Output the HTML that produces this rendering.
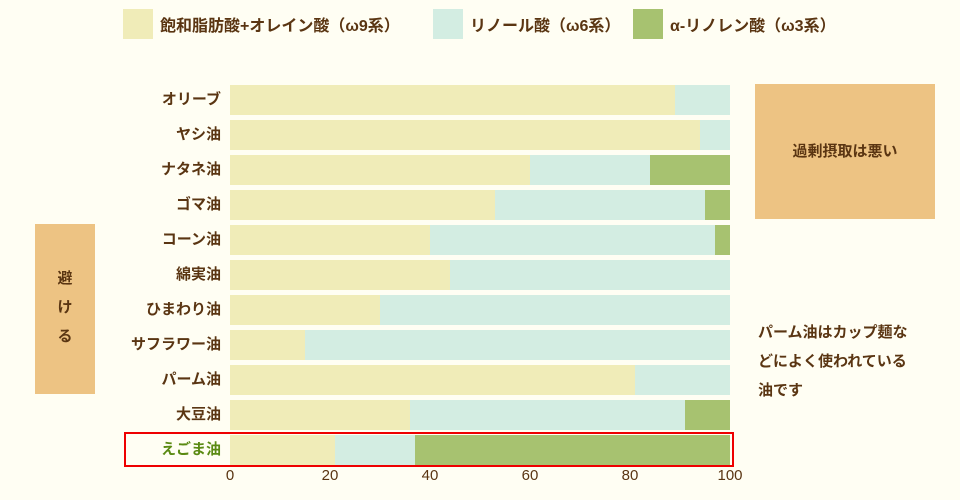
<!DOCTYPE html>
<html><head><meta charset="utf-8"><style>
body{margin:0;width:960px;height:500px;background:#fffef3;position:relative;overflow:hidden;font-family:"Liberation Sans","Noto Sans CJK JP",sans-serif;color:#5a3512;font-weight:bold}
.a{position:absolute}
.lab{position:absolute;right:739px;font-size:15px;line-height:30px;white-space:nowrap}
.t{position:absolute;top:467px;font-size:15px;font-weight:normal;width:40px;text-align:center}
</style></head><body>
<div class="a" style="left:123px;top:9px;width:30px;height:30px;background:#f0ecb8"></div>
<div class="a" style="left:160px;top:12px;font-size:16px">飽和脂肪酸+オレイン酸（ω9系）</div>
<div class="a" style="left:433px;top:9px;width:30px;height:30px;background:#d3ede2"></div>
<div class="a" style="left:470px;top:12px;font-size:16px">リノール酸（ω6系）</div>
<div class="a" style="left:633px;top:9px;width:30px;height:30px;background:#a7c270"></div>
<div class="a" style="left:670px;top:12px;font-size:16px">α-リノレン酸（ω3系）</div>

<div class="a" style="left:755px;top:84px;width:180px;height:135px;background:#edc383;font-size:15px;line-height:135px;text-align:center">過剰摂取は悪い</div>
<div class="a" style="left:35px;top:224px;width:60px;height:170px;background:#edc383;font-size:15px;text-align:center;padding-top:40px;box-sizing:border-box;line-height:29px">避<br>け<br>る</div>
<div class="a" style="left:758px;top:318px;font-size:15px;line-height:29px;width:180px">パーム油はカップ麺な<br>どによく使われている<br>油です</div>

<div id="bars"></div>
<div class="a" style="left:124px;top:432px;width:606px;height:31px;border:2px solid #e00"></div>
<div class="t" style="left:210px">0</div><div class="t" style="left:310px">20</div><div class="t" style="left:410px">40</div><div class="t" style="left:510px">60</div><div class="t" style="left:610px">80</div><div class="t" style="left:710px">100</div>
<script>
var d=[["オリーブ",89,11,0],["ヤシ油",94,6,0],["ナタネ油",60,24,16],["ゴマ油",53,42,5],["コーン油",40,57,3],["綿実油",44,56,0],["ひまわり油",30,70,0],["サフラワー油",15,85,0],["パーム油",81,19,0],["大豆油",36,55,9],["えごま油",21,16,63]];
var h="";d.forEach(function(r,i){var y=85+i*35,x=230,c=["#f0ecb8","#d3ede2","#a7c270"];
h+='<div class="lab" style="top:'+y+'px;'+(i==10?'color:#5a8a12':'')+'">'+r[0]+'</div>';
for(var k=0;k<3;k++){var w=r[k+1]*5;if(w)h+='<div class="a" style="left:'+x+'px;top:'+y+'px;width:'+w+'px;height:30px;background:'+c[k]+'"></div>';x+=w;}});
document.getElementById("bars").innerHTML=h;
</script>
</body></html>
